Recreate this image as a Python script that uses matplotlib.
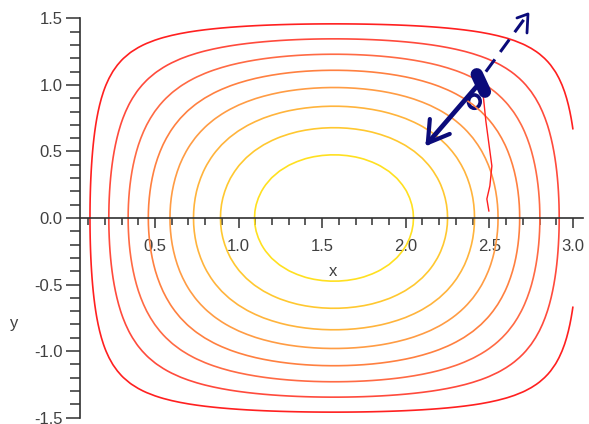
import matplotlib.pyplot as plt
import numpy as np
from matplotlib.patches import Ellipse
from matplotlib.ticker import MultipleLocator

# contour levels (8 evenly spaced levels)
levels = [0.111, 0.222, 0.333, 0.444, 0.556, 0.667, 0.778, 0.889]
level_colors = ['#ff2020', '#ff4a3c', '#ff6a44', '#ff8040',
                '#ff9c44', '#ffb43c', '#ffc830', '#ffe020']

# surface being contoured: sin(x)*cos(y)
gx = np.linspace(0, 3, 61)
gy = np.linspace(-1.5, 1.5, 61)
X, Y = np.meshgrid(gx, gy)
Z = np.sin(X) * np.cos(Y)

# hand drawn annotation (data coordinates)
arrow_x = [2.425, 2.132]
arrow_y = [0.990, 0.564]
head1_x = [2.144, 2.132, 2.263]
head1_y = [0.744, 0.564, 0.632]
dash_x = [2.479, 2.731]
dash_y = [1.100, 1.534]
head2_x = [2.665, 2.731, 2.725]
head2_y = [1.504, 1.534, 1.391]
blob_x = [2.425, 2.473]
blob_y = [1.080, 0.950]
red_x = [2.461, 2.479, 2.503, 2.515, 2.503, 2.485, 2.497]
red_y = [0.950, 0.729, 0.504, 0.391, 0.241, 0.143, 0.053]

xticks = [0.5, 1.0, 1.5, 2.0, 2.5, 3.0]
yticks = [-1.5, -1.0, -0.5, 0.0, 0.5, 1.0, 1.5]

fig = plt.figure(figsize=(5.89, 4.24), dpi=100)
ax = fig.add_axes([0.1365, 0.0153, 0.8533, 0.9411])

ax.contour(X, Y, Z, levels=levels, colors=level_colors, linewidths=1.2)

navy = '#0b0b7a'
ax.plot(red_x, red_y, color='#ff2020', lw=1.0)
ax.plot(arrow_x, arrow_y, color=navy, lw=3.4, solid_capstyle='round')
ax.plot(head1_x, head1_y, color=navy, lw=3.0, solid_capstyle='round',
        solid_joinstyle='round')
ax.plot(dash_x, dash_y, color=navy, lw=2.2, dashes=(5, 3), clip_on=False)
ax.plot(head2_x, head2_y, color=navy, lw=2.0, solid_capstyle='round',
        clip_on=False)
ax.plot(blob_x, blob_y, color=navy, lw=9, solid_capstyle='round')
ax.add_patch(Ellipse((2.410, 0.875), 0.07, 0.10, fill=False,
                     edgecolor=navy, lw=2.6))

ax.set_xlim(0.054, 3.06)
ax.set_ylim(-1.5, 1.5)

for s in ['top', 'right']:
    ax.spines[s].set_visible(False)
ax.spines['bottom'].set_position(('data', 0))
for s in ['left', 'bottom']:
    ax.spines[s].set_color('#303030')
    ax.spines[s].set_linewidth(1.2)

ax.set_xticks(xticks)
ax.set_xticklabels([f'{v:.1f}' for v in xticks])
ax.set_yticks(yticks)
ax.set_yticklabels([f'{v:.1f}' for v in yticks])
ax.xaxis.set_minor_locator(MultipleLocator(0.1))
ax.yaxis.set_minor_locator(MultipleLocator(0.1))

ax.tick_params(axis='x', which='major', length=7, width=1.1, color='#303030',
               labelsize=12, labelcolor='#404040', pad=8, direction='out')
ax.tick_params(axis='x', which='minor', length=5, width=1.1, color='#303030',
               direction='out')
ax.tick_params(axis='y', which='major', length=10, width=1.1, color='#303030',
               labelsize=12, labelcolor='#404040', pad=3, direction='out')
ax.tick_params(axis='y', which='minor', length=7, width=1.1, color='#303030',
               direction='out')
for lab in ax.get_xticklabels() + ax.get_yticklabels():
    lab.set_family('Liberation Sans')

ax.text(1.563, -0.40, 'x', fontsize=12, color='#404040',
        family='Liberation Sans', ha='center', va='center')
ax.text(-0.34, -0.79, 'y', fontsize=12, color='#404040',
        family='Liberation Sans', ha='center', va='center', clip_on=False)

fig.savefig('out.png', dpi=100)
